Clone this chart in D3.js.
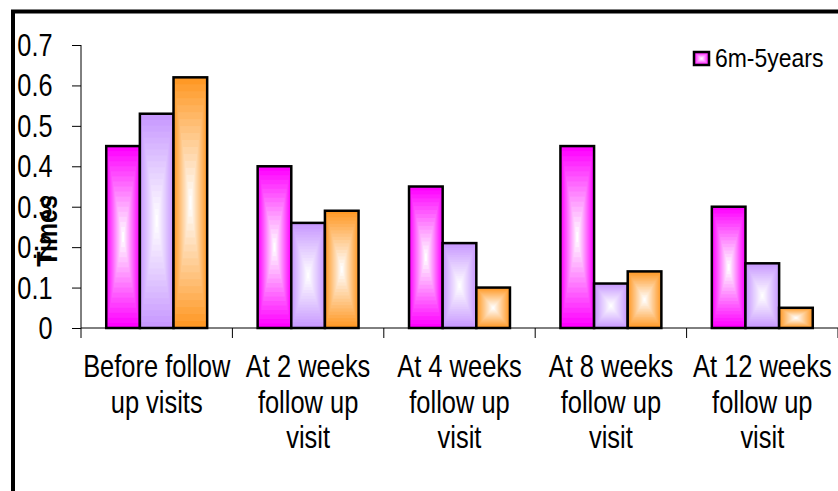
<!DOCTYPE html>
<html>
<head>
<meta charset="utf-8">
<script src="https://cdn.jsdelivr.net/npm/d3@7"></script>
<style>
  body { margin: 0; background: #fff; }
  text { font-family: "Liberation Sans", Arial, sans-serif; fill: #000; }
</style>
</head>
<body>
<div class="box"></div>
<script>
// données
const categories = [
  ['Before follow', 'up visits'],
  ['At 2 weeks', 'follow up', 'visit'],
  ['At 4 weeks', 'follow up', 'visit'],
  ['At 8 weeks', 'follow up', 'visit'],
  ['At 12 weeks', 'follow up', 'visit']
];
const series = ['6m-5years', 's2', 's3'];
const serie1 = [0.45, 0.40, 0.35, 0.45, 0.30];
const serie2 = [0.53, 0.26, 0.21, 0.11, 0.16];
const serie3 = [0.62, 0.29, 0.10, 0.14, 0.05];
const yTicks = [0, 0.1, 0.2, 0.3, 0.4, 0.5, 0.6, 0.7];
const couleurs = ['#ff00ff', '#c899ff', '#ff9926'];

const dims = {width: 838, height: 491};
const plot = {left: 81, right: 838, top: 45, bottom: 328};

const svg = d3.select('.box')
              .append('svg')
              .attr('width', dims.width)
              .attr('height', dims.height);

// cadre
svg.append('rect')
   .attr('x', 13).attr('y', 11.5)
   .attr('width', 900).attr('height', 600)
   .attr('fill', 'none')
   .attr('stroke', '#000')
   .attr('stroke-width', 4);

const x0 = d3.scaleBand()
             .domain(d3.range(categories.length))
             .range([plot.left, plot.right])
             .paddingInner(1 / 3)
             .paddingOuter(1 / 6);
const xBand = d3.scaleBand().domain(d3.range(categories.length)).range([plot.left, plot.right]);
const x1 = d3.scaleBand().domain(d3.range(series.length)).range([0, x0.bandwidth()]);
const y = d3.scaleLinear().domain([0, 0.7]).range([plot.bottom, plot.top]);

// texte un peu étroit comme dans l'original
const texte = (g, tx, ty, str, size, sx, anchor, weight) => {
  g.append('g')
   .attr('transform', `translate(${tx},${ty}) scale(${sx},1)`)
   .append('text')
   .attr('text-anchor', anchor)
   .attr('font-size', size)
   .attr('font-weight', weight || 'normal')
   .text(str);
};

// axe y
const yAxis = svg.append('g').attr('transform', `translate(${plot.left},0)`)
                 .call(d3.axisLeft(y).tickValues(yTicks).tickSize(9).tickFormat(''));
yAxis.select('.domain').attr('d', `M0,${plot.top}V${plot.bottom}`);
yAxis.selectAll('line, path').attr('stroke', '#000').attr('stroke-width', 1);
yTicks.forEach(t => texte(svg, 52.5, y(t) + 11, d3.format('')(t), 30.5, 0.83, 'end'));

// axe x
const xAxis = svg.append('g').attr('transform', `translate(0,${plot.bottom})`)
                 .call(d3.axisBottom(d3.scaleLinear().range([plot.left, plot.right]))
                 .tickValues([]).tickSize(0));
xAxis.select('.domain').attr('d', `M${plot.left},0H${plot.right}`).attr('stroke', '#000');
svg.append('g').selectAll('line')
   .data(d3.range(categories.length + 1))
   .enter().append('line')
   .attr('x1', i => plot.left + i * xBand.step())
   .attr('x2', i => plot.left + i * xBand.step())
   .attr('y1', plot.bottom).attr('y2', plot.bottom + 10)
   .attr('stroke', '#000').attr('stroke-width', 1);

categories.forEach((lignes, i) => {
  lignes.forEach((l, j) => texte(svg, xBand(i) + xBand.bandwidth() / 2, 377 + j * 35.5, l, 30.5, 0.835, 'middle'));
});

// titre axe y
svg.append('g')
   .attr('transform', 'translate(57,231) rotate(-90) scale(0.83,1)')
   .append('text')
   .attr('text-anchor', 'middle')
   .attr('font-size', 30)
   .attr('font-weight', 'bold')
   .text('Times');

// barres avec dégradé "depuis le centre"
const pas = 18;
const barre = (g, bx, by, w, h, c) => {
  const interp = d3.interpolateRgb(c, '#ffffff');
  d3.range(pas).forEach(k => {
    const t = k / pas;
    g.append('rect')
     .attr('x', bx + t * w / 2).attr('y', by + t * h / 2)
     .attr('width', Math.max(0, w * (1 - t))).attr('height', Math.max(0, h * (1 - t)))
     .attr('fill', interp(t * 1.05));
  });
  g.append('rect')
   .attr('x', bx).attr('y', by).attr('width', w).attr('height', h)
   .attr('fill', 'none').attr('stroke', '#000').attr('stroke-width', 2.5);
};

const valeurs = [serie1, serie2, serie3];
const graph = svg.append('g');
categories.forEach((c, i) => {
  valeurs.forEach((v, s) => {
    barre(graph, x0(i) + x1(s), y(v[i]), x1.bandwidth(), y(0) - y(v[i]), couleurs[s]);
  });
});

// légende
const leg = svg.append('g');
barre(leg, 694, 52, 15, 13, couleurs[0]);
texte(leg, 715, 67, series[0], 25.5, 0.9, 'start');
</script>
</body>
</html>
